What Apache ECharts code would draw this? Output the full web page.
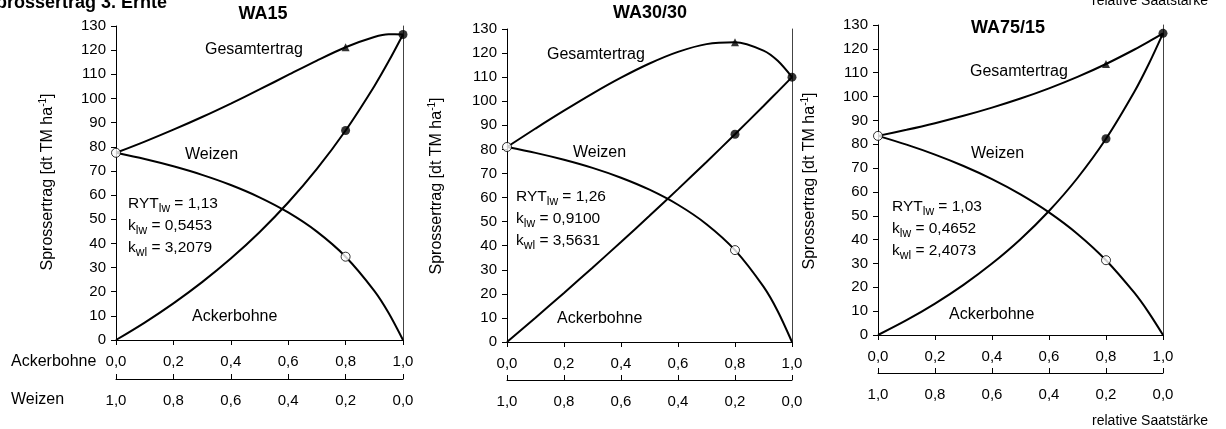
<!DOCTYPE html>
<html><head><meta charset="utf-8">
<script src="https://cdn.jsdelivr.net/npm/echarts@6/dist/echarts.min.js"></script>
<style>html,body{margin:0;padding:0;background:#fff}#c{width:1226px;height:429px}</style>
</head><body><div id="c"></div>
<script>
// relative Saatstärke Ackerbohne (x positions of the curve points)
const xs = [0, 0.1, 0.2, 0.3, 0.4, 0.5, 0.6, 0.7, 0.8, 0.9, 0.95, 1.0];
// WA15
const wa15Weizen = [77.5, 74.91, 71.90, 68.37, 64.17, 59.08, 52.81, 44.87, 34.49, 20.36, 11.19, 0];
const wa15Acker  = [0, 7.23, 15.18, 23.96, 33.73, 44.64, 56.92, 70.83, 86.73, 105.09, 115.37, 126.5];
const wa15Gesamt = [77.5, 82.14, 87.08, 92.33, 97.90, 103.72, 109.73, 115.70, 121.22, 125.45, 126.56, 126.5];
// WA30/30
const wa3030Weizen = [81, 78.55, 75.69, 72.31, 68.23, 63.25, 57.00, 48.94, 38.17, 22.97, 12.79, 0];
const wa3030Acker  = [0, 10.11, 20.38, 30.86, 41.54, 52.41, 63.49, 74.78, 86.29, 98.04, 103.98, 110];
const wa3030Gesamt = [81, 88.66, 96.07, 103.17, 109.77, 115.66, 120.49, 123.72, 124.46, 121.01, 116.77, 110];
// WA75/15
const wa7515Weizen = [83.5, 79.82, 75.64, 70.88, 65.39, 58.99, 51.44, 42.40, 31.37, 17.62, 9.39, 0];
const wa7515Acker  = [0, 6.22, 13.18, 21.03, 29.95, 40.16, 51.99, 65.84, 82.28, 102.11, 113.64, 126.5];
const wa7515Gesamt = [83.5, 86.04, 88.82, 91.91, 95.34, 99.15, 103.43, 108.24, 113.65, 119.73, 123.03, 126.5];
// indices of measured points (markers)
const weizenMarkIdx = [0, 8];
const ackerMarkIdx = [8, 11];
const gesamtMarkIdx = [8];
// stats text
const rytTexts = [['1,13', '0,5453', '3,2079'], ['1,26', '0,9100', '3,5631'], ['1,03', '0,4652', '2,4073']];
const titles = ['WA15', 'WA30/30', 'WA75/15'];

const FONT = '"Liberation Sans", Arial, sans-serif';
const fmt = v => v.toFixed(1).replace('.', ',');

const panels = [
  { weizen: wa15Weizen, acker: wa15Acker, gesamt: wa15Gesamt,
    grid: {left: 116, top: 26, width: 287, height: 314}, offset: 39,
    title: [263, 14], ylab: [48, 182], ges: [205, 50], wei: [185, 155], ryt: [128, 204], ack: [192, 317] },
  { weizen: wa3030Weizen, acker: wa3030Acker, gesamt: wa3030Gesamt,
    grid: {left: 507, top: 29, width: 285, height: 313}, offset: 38,
    title: [650, 13], ylab: [437, 186], ges: [547, 55], wei: [573, 153], ryt: [516, 197], ack: [557, 319] },
  { weizen: wa7515Weizen, acker: wa7515Acker, gesamt: wa7515Gesamt,
    grid: {left: 878, top: 25, width: 285, height: 310}, offset: 38,
    title: [1008, 28], ylab: [810, 181], ges: [970, 72], wei: [971, 154], ryt: [892, 207], ack: [949, 315] }
];

const grid = [], xAxis = [], yAxis = [], series = [], graphic = [];
const txt = (x, y, text, opts = {}) => ({
  type: 'text', x, y, silent: true, rotation: opts.rotation || 0,
  style: Object.assign({ text, fontSize: 16, fontFamily: FONT, fill: '#000',
    textAlign: 'left', textVerticalAlign: 'middle', align: 'left', verticalAlign: 'middle' }, opts.style || {})
});
const subRich = { a: {fontSize: 15.5, fontFamily: FONT, fill: '#000', color: '#000'},
                  s: {fontSize: 12, fontFamily: FONT, fill: '#000', color: '#000', padding: [9, 0, 0, 0]} };

panels.forEach((p, i) => {
  grid.push(Object.assign({containLabel: false}, p.grid));
  const xBase = { gridIndex: i, type: 'value', min: 0, max: 1, interval: 0.2, position: 'bottom',
    splitLine: {show: false},
    axisLabel: {formatter: fmt, fontSize: 15, fontFamily: FONT, color: '#000', margin: 14} };
  xAxis.push(Object.assign({}, xBase, {
    axisLine: {show: true, onZero: false, lineStyle: {color: '#000', width: 1}},
    axisTick: {show: true, inside: false, length: 5, lineStyle: {color: '#000'}} }));
  xAxis.push(Object.assign({}, xBase, { inverse: true, offset: p.offset,
    axisLine: {show: true, onZero: false, lineStyle: {color: '#000', width: 1}},
    axisTick: {show: true, inside: true, length: 5, lineStyle: {color: '#000'}} }));
  yAxis.push({ gridIndex: i, type: 'value', min: 0, max: 130, interval: 10, position: 'left',
    splitLine: {show: false},
    axisLine: {show: true, onZero: false, lineStyle: {color: '#000', width: 1}},
    axisTick: {show: true, length: 5, lineStyle: {color: '#000'}},
    axisLabel: {fontSize: 15, fontFamily: FONT, color: '#000', margin: 10} });
  yAxis.push({ gridIndex: i, type: 'value', min: 0, max: 130, interval: 10, position: 'right',
    splitLine: {show: false},
    axisLine: {show: true, onZero: false, lineStyle: {color: '#444', width: 1}},
    axisTick: {show: false}, axisLabel: {show: false} });

  const xi = 2 * i, yi = 2 * i;
  const pairs = arr => xs.map((x, k) => [x, arr[k]]);
  const lineS = arr => ({ type: 'line', xAxisIndex: xi, yAxisIndex: yi, data: pairs(arr),
    smooth: 0.3, showSymbol: false, symbol: 'none', silent: true,
    lineStyle: {color: '#000', width: 2}, z: 2 });
  series.push(lineS(p.weizen), lineS(p.acker), lineS(p.gesamt));
  series.push({ type: 'scatter', xAxisIndex: xi, yAxisIndex: yi, clip: false, silent: true, z: 5,
    data: gesamtMarkIdx.map(k => [xs[k], p.gesamt[k]]), symbol: 'triangle', symbolSize: 8,
    itemStyle: {color: '#000'} });
  series.push({ type: 'scatter', xAxisIndex: xi, yAxisIndex: yi, clip: false, silent: true, z: 5,
    data: ackerMarkIdx.map(k => [xs[k], p.acker[k]]), symbol: 'circle', symbolSize: 9,
    itemStyle: {color: '#000'} });
  series.push({ type: 'scatter', xAxisIndex: xi, yAxisIndex: yi, clip: false, silent: true, z: 6,
    data: weizenMarkIdx.map(k => [xs[k], p.weizen[k]]), symbol: 'circle', symbolSize: 9,
    itemStyle: {color: '#fff', borderColor: '#000', borderWidth: 1} });

  graphic.push(txt(p.title[0], p.title[1], titles[i],
    {style: {fontSize: 18, fontWeight: 'bold', textAlign: 'center', align: 'center'}}));
  graphic.push(txt(p.ylab[0], p.ylab[1], '{a|Sprossertrag [dt TM ha}{s|-1}{a|]}', { rotation: Math.PI / 2,
    style: { textAlign: 'center', align: 'center', fontSize: 16,
      rich: { a: {fontSize: 16, fontFamily: FONT, fill: '#000', color: '#000'},
              s: {fontSize: 10, fontFamily: FONT, fill: '#000', color: '#000', padding: [0, 0, 10, 0]} } } }));
  graphic.push(txt(p.ges[0], p.ges[1], 'Gesamtertrag'));
  graphic.push(txt(p.wei[0], p.wei[1], 'Weizen'));
  graphic.push(txt(p.ack[0], p.ack[1], 'Ackerbohne'));
  const r = rytTexts[i];
  graphic.push(txt(p.ryt[0], p.ryt[1], '{a|RYT}{s|lw}{a| = ' + r[0] + '}', {style: {rich: subRich}}));
  graphic.push(txt(p.ryt[0], p.ryt[1] + 22, '{a|k}{s|lw}{a| = ' + r[1] + '}', {style: {rich: subRich}}));
  graphic.push(txt(p.ryt[0], p.ryt[1] + 44, '{a|k}{s|wl}{a| = ' + r[2] + '}', {style: {rich: subRich}}));
});

graphic.push(txt(167, 3, 'Sprossertrag 3. Ernte', {style: {fontSize: 18, fontWeight: 'bold', textAlign: 'right', align: 'right'}}));
graphic.push(txt(11, 362, 'Ackerbohne', {style: {fontSize: 16}}));
graphic.push(txt(11, 400, 'Weizen', {style: {fontSize: 16}}));
graphic.push(txt(1208, 1, 'relative Saatstärke', {style: {fontSize: 14, textAlign: 'right', align: 'right'}}));
graphic.push(txt(1208, 421, 'relative Saatstärke', {style: {fontSize: 14, textAlign: 'right', align: 'right'}}));

const chart = echarts.init(document.getElementById('c'), null, {renderer: 'canvas'});
chart.setOption({ animation: false, backgroundColor: '#fff', grid, xAxis, yAxis, series, graphic });
</script></body></html>
